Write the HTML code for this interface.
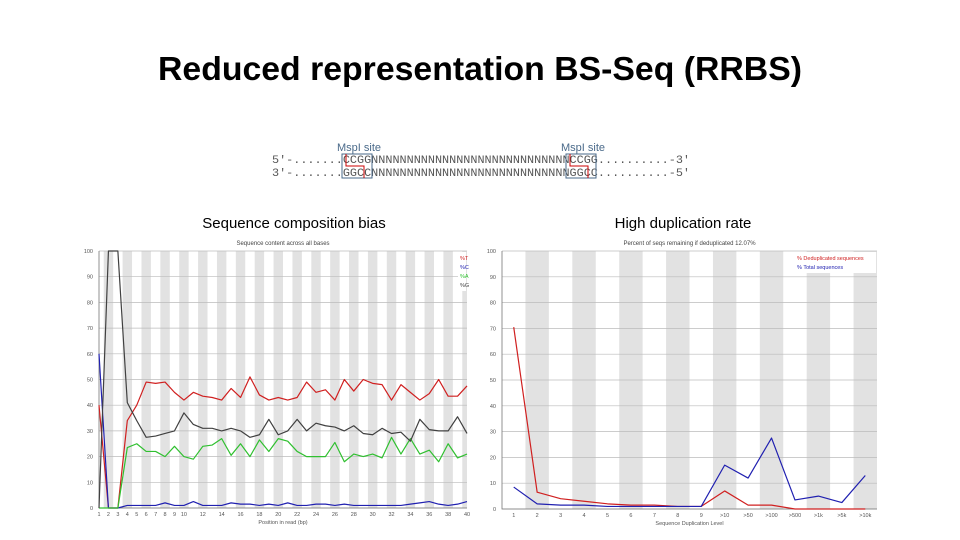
<!DOCTYPE html>
<html><head><meta charset="utf-8"><style>
body{margin:0;background:#fff;width:960px;height:540px;overflow:hidden}
svg{display:block;font-family:"Liberation Sans",sans-serif}
</style></head><body>
<svg id="s" width="960" height="540">
<text x="480" y="80" text-anchor="middle" font-size="33" font-weight="bold" textLength="644" lengthAdjust="spacingAndGlyphs">Reduced representation BS-Seq (RRBS)</text>
<g font-size="11" font-family="Liberation Mono,monospace">
<text x="337" y="151" fill="#4a6a8a" font-family="Liberation Sans,sans-serif" font-size="11">MspI site</text>
<text x="561" y="151" fill="#4a6a8a" font-family="Liberation Sans,sans-serif" font-size="11">MspI site</text>
<text x="272" y="163" fill="#555" textLength="418" lengthAdjust="spacingAndGlyphs">5'-.......CCGGNNNNNNNNNNNNNNNNNNNNNNNNNNNNCCGG..........-3'</text>
<text x="272" y="176" fill="#555" textLength="418" lengthAdjust="spacingAndGlyphs">3'-.......GGCCNNNNNNNNNNNNNNNNNNNNNNNNNNNNGGCC..........-5'</text>
<rect x="342" y="154" width="30" height="24" fill="none" stroke="#4a6a8a"/>
<rect x="566" y="154" width="30" height="24" fill="none" stroke="#4a6a8a"/>
<path d="M346 154v12h18v12M570 154v12h18v12" fill="none" stroke="#c00"/>
</g>
<text x="294" y="228" text-anchor="middle" font-size="15">Sequence composition bias</text>
<text x="683" y="228" text-anchor="middle" font-size="15">High duplication rate</text>
<g id="c1"></g><g id="c2"></g>
</svg>
<script>
const posLabels=[1,2,3,4,5,6,7,8,9,10,'',12,'',14,'',16,'',18,'',20,'',22,'',24,'',26,'',28,'',30,'',32,'',34,'',36,'',38,'',40];
const seqT=[40,0,0,34,40,49,48.5,49,45,42,45,43.5,43,42,46.5,43,51,44,42,43,42,43,49,45,46,42,50,45.5,50,48.5,48,42,48,45,42,44.5,50,43.5,43.5,47.5];
const seqC=[60,0,0,1,1,1,1,2,1,1,2.5,1,1,1,2,1.5,1.5,1,1.5,1,2,1,1,1.5,1.5,1,1.5,1,1,1,1,1,1,1.5,2,2.5,1.5,1,1.5,2.5];
const seqA=[0,0,0,23.5,25,22,22,20,24,20,19,24,24.5,27,20.5,25,20,26.5,22,27,26,22,20,20,20,25.5,18,21,20,21,19.5,27.5,21,27,21,22.5,18,25,19.5,21];
const seqG=[0,100,100,41,34,27.5,28,29,30,37,32.5,31,31,30,31,30,27.5,28.5,34.5,28.5,30,34.5,30,33,32,31.5,30,32,29,28.5,31,29,29.5,26,34.5,30.5,30,30,35.5,29];
const dupCats=['1','2','3','4','5','6','7','8','9','>10','>50','>100','>500','>1k','>5k','>10k'];
const dupDedup=[70.5,6.5,4,3,2,1.5,1.5,1,1,7,1.5,1.5,0,0,0,0];
const dupTotal=[8.5,2,1.5,1.5,1,1,1,1,1,17,12,27.5,3.5,5,2.5,13];
const yTicks=[0,10,20,30,40,50,60,70,80,90,100];
const NS='http://www.w3.org/2000/svg';
function mk(p,t,a){const e=document.createElementNS(NS,t);for(const k in a)e.setAttribute(k,a[k]);p.appendChild(e);return e;}
function chart(g,o){
 const n=o.cats.length,L=o.L,R=o.R,T=o.T,B=o.B;
 const step=o.edge?(R-L)/(n-1):(R-L)/n;
 const x=o.edge?(i=>L+step*i):(i=>L+step*(i+0.5)),y=v=>B-(v/100)*(B-T);
 for(let i=0;i<n;i++){if(i%2==1){const x0=Math.max(L,x(i)-step/2),x1=Math.min(R,x(i)+step/2);const r=mk(g,'rect',{x:x0,y:T,width:x1-x0,height:B-T,fill:'#e2e2e2'});
 
 }}
 yTicks.forEach(v=>{const l=mk(g,'line',{x1:L,x2:R,y1:y(v),y2:y(v),stroke:'#bbb','stroke-width':0.7});
 
 
 const t=mk(g,'text',{x:L-6,y:y(v)+2,'font-size':5.5,'text-anchor':'end',fill:'#555'});t.textContent=v;
 
 });
 mk(g,'path',{d:`M${L} ${T}V${B}H${R}`,stroke:'#777',fill:'none','stroke-width':0.8});
 o.cats.forEach((c,i)=>{const t=mk(g,'text',{x:x(i),y:B+8,'font-size':5.5,'text-anchor':'middle',fill:'#555'});t.textContent=c;
 
 });
 const tt=mk(g,'text',{x:(L+R)/2,y:T-6,'font-size':6,'text-anchor':'middle',fill:'#444'});tt.textContent=o.title;
 
 
 const xt=mk(g,'text',{x:(L+R)/2,y:B+16,'font-size':5.5,'text-anchor':'middle',fill:'#555'});xt.textContent=o.xtitle;
 
 
 o.series.forEach(s=>{const p=mk(g,'polyline',{points:s.v.map((v,i)=>x(i)+','+y(v)).join(' '),fill:'none',stroke:s.c,'stroke-width':1.2,'stroke-linejoin':'round'});
 
 });
 const lg=mk(g,'rect',{x:o.lgx,y:T+1,width:R-o.lgx-1,height:o.series.length*9+3,fill:'#fff'});
 
 
 o.series.forEach((s,i)=>{const t=mk(g,'text',{x:o.lgx+2,y:T+9+i*9,'font-size':5.5,fill:s.c});t.textContent=s.l;
 
 });
}
chart(document.getElementById('c1'),{cats:posLabels,edge:true,L:99,R:467,T:251,B:508,title:'Sequence content across all bases',xtitle:'Position in read (bp)',lgx:458,
 series:[{v:seqT,c:'#d02020',l:'%T',n:'line-t'},{v:seqC,c:'#2020b0',l:'%C',n:'line-c'},{v:seqA,c:'#30c030',l:'%A',n:'line-a'},{v:seqG,c:'#404040',l:'%G',n:'line-g'}]});
chart(document.getElementById('c2'),{cats:dupCats,L:502,R:877,T:251,B:509,title:'Percent of seqs remaining if deduplicated 12.07%',xtitle:'Sequence Duplication Level',lgx:795,
 series:[{v:dupDedup,c:'#d02020',l:'% Deduplicated sequences',n:'line-deduplicated'},{v:dupTotal,c:'#2020b0',l:'% Total sequences',n:'line-total'}]});
</script>
</body></html>
